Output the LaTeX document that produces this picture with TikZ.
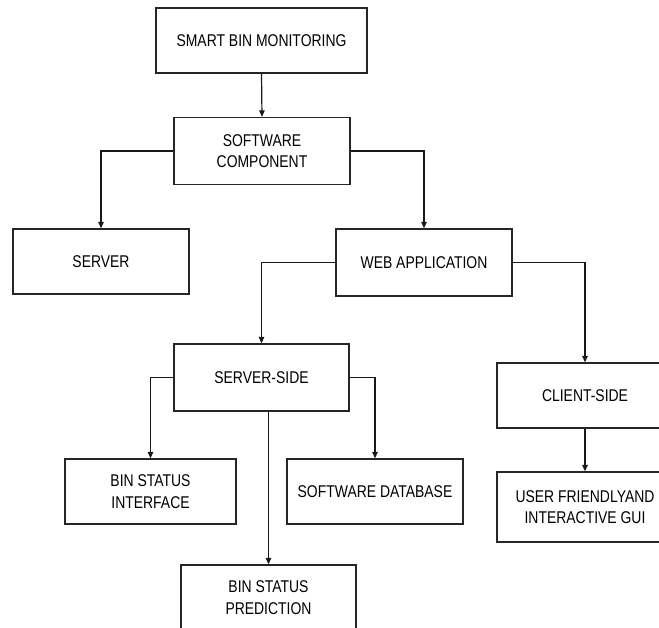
\documentclass[tikz,border=0pt]{standalone}
\usepackage{fontspec}
\setmainfont[FakeStretch=0.82]{Liberation Sans}
\usetikzlibrary{arrows.meta}
\begin{document}
\begin{tikzpicture}[x=1pt,y=-1pt,
  box/.style={draw=black!85,line width=1.3pt,fill=white,align=center,inner sep=0pt,
    font=\fontsize{17}{21.5}\selectfont},
  conn/.style={draw=black!90,line width=1.2pt,-{Triangle[length=6.5pt,width=5.5pt]}}]
\useasboundingbox (0,0) rectangle (659,627);
\clip (0,0) rectangle (659,627);
\node[box,minimum width=211pt,minimum height=65pt] (smart) at (261.5,40.5) {SMART BIN MONITORING};
\node[box,minimum width=176pt,minimum height=67pt] (soft) at (262,151) {SOFTWARE\\COMPONENT};
\node[box,minimum width=176pt,minimum height=65pt] (server) at (101,261.5) {SERVER};
\node[box,minimum width=176pt,minimum height=67pt] (web) at (424,262.5) {WEB APPLICATION};
\node[box,minimum width=175pt,minimum height=67pt] (ss) at (261.5,377.5) {SERVER-SIDE};
\node[box,minimum width=176pt,minimum height=65pt] (cs) at (585,395.5) {CLIENT-SIDE};
\node[box,minimum width=171pt,minimum height=65pt] (bsi) at (150.5,491.5) {BIN STATUS\\INTERFACE};
\node[box,minimum width=176pt,minimum height=65pt] (sd) at (375,491.5) {SOFTWARE DATABASE};
\node[box,minimum width=176pt,minimum height=70pt] (uf) at (585,507) {USER FRIENDLYAND\\INTERACTIVE GUI};
\node[box,minimum width=175pt,minimum height=65pt] (pred) at (268.5,597.5) {BIN STATUS\\PREDICTION};
\draw[conn] (smart.south) -- (soft.north);
\draw[conn] (soft.west) -| (server.north);
\draw[conn] (soft.east) -| (web.north);
\draw[conn] (web.west) -| (ss.north);
\draw[conn] (web.east) -| (cs.north);
\draw[conn] (ss.west) -| (bsi.north);
\draw[conn] (ss.east) -| (sd.north);
\draw[conn] (pred.north |- ss.south) -- (pred.north);
\draw[conn] (cs.south) -- (uf.north);
\end{tikzpicture}
\end{document}
